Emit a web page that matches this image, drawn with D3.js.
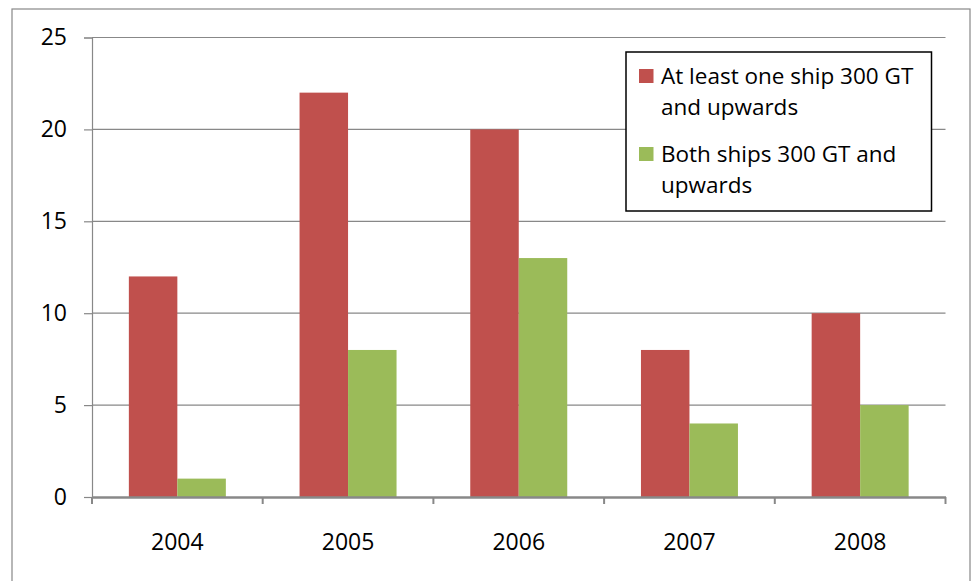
<!DOCTYPE html>
<html><head><meta charset="utf-8">
<script src="https://cdn.jsdelivr.net/npm/d3@7"></script>
<style>body{margin:0;background:#fff}svg{display:block}</style>
</head><body>
<svg id="c" width="972" height="581"></svg>
<script>
const categories = ["2004","2005","2006","2007","2008"];
const seriesNames = ["At least one ship 300 GT and upwards","Both ships 300 GT and upwards"];
const atLeastOne = [12,22,20,8,10];
const bothShips = [1,8,13,4,5];
const yTicks = [0,5,10,15,20,25];
const colors = ["#C0504D","#9BBB59"];
const legendLines = [["At least one ship 300 GT","and upwards"],["Both ships 300 GT and","upwards"]];

const svg = d3.select("#c");
const font = "'Open Sans', sans-serif";
const L = 92, R = 945.5, T = 37.5, B = 497;

svg.append("rect").attr("x",12).attr("y",9).attr("width",958).attr("height",600)
  .attr("fill","#fff").attr("stroke","#888").attr("stroke-width",1.2);

const x = d3.scaleBand().domain(categories).range([L,R]).paddingInner(0).paddingOuter(0);
const xs = d3.scaleBand().domain([0,1]).range([0,x.bandwidth()]).paddingInner(0).paddingOuter(0.76);
const y = d3.scaleLinear().domain([0,25]).range([B,T]);

// gridlines
svg.append("g").selectAll("line").data(yTicks.filter(d=>d>0)).join("line")
  .attr("x1",L).attr("x2",R).attr("y1",d=>y(d)).attr("y2",d=>y(d))
  .attr("stroke","#888").attr("stroke-width",1.2);

// bars
const data = categories.map((c,i)=>({c, v:[atLeastOne[i],bothShips[i]]}));
const g = svg.append("g");
data.forEach(d=>{
  d.v.forEach((v,j)=>{
    g.append("rect").attr("x",x(d.c)+xs(j)).attr("width",xs.bandwidth())
      .attr("y",y(v)).attr("height",y(0)-y(v)).attr("fill",colors[j]);
  });
});

// y axis
const yAxis = d3.axisLeft(y).tickValues(yTicks).tickSize(8).tickPadding(17);
const ya = svg.append("g").attr("transform",`translate(${L},0)`).call(yAxis);
ya.select(".domain").attr("stroke","#888").attr("stroke-width",1.2);
ya.selectAll(".tick line").attr("stroke","#888").attr("stroke-width",1.2);
ya.selectAll(".tick text").attr("font-family",font).attr("font-size",23).attr("fill","#000");

// x axis
const xAxis = d3.axisBottom(x).tickSize(0).tickPadding(37);
const xa = svg.append("g").attr("transform",`translate(0,${B})`).call(xAxis);
xa.select(".domain").attr("stroke","#888").attr("stroke-width",2.5);
xa.selectAll(".tick text").attr("font-family",font).attr("font-size",23).attr("fill","#000");
// category boundary ticks
const bounds = categories.map(c=>x(c)).concat([R]);
xa.append("g").selectAll("line").data(bounds).join("line")
  .attr("x1",d=>d).attr("x2",d=>d).attr("y1",0).attr("y2",7)
  .attr("stroke","#888").attr("stroke-width",2);

// legend
const lg = svg.append("g");
lg.append("rect").attr("x",626).attr("y",52).attr("width",305.5).attr("height",159)
  .attr("fill","#fff").attr("stroke","#000").attr("stroke-width",1.5);
const legY = [69,147];
seriesNames.forEach((s,i)=>{
  lg.append("rect").attr("x",639).attr("y",legY[i]).attr("width",14.5).attr("height",14).attr("fill",colors[i]);
  const t = lg.append("text").attr("x",661).attr("y",legY[i]+15)
    .attr("font-family",font).attr("font-size",22.5).attr("fill","#000");
  legendLines[i].forEach((ln,k)=>{
    t.append("tspan").attr("x",661).attr("dy",k===0?0:31).text(ln);
  });
});
</script>
</body></html>
